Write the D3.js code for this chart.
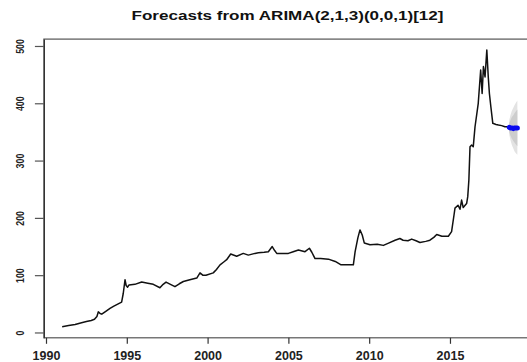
<!DOCTYPE html>
<html>
<head>
<meta charset="utf-8">
<script src="https://cdn.jsdelivr.net/npm/d3@7"></script>
<style>
  html, body { margin: 0; padding: 0; background: #fff; }
  svg { display: block; font-family: "Liberation Sans", Arial, sans-serif; }
</style>
</head>
<body>
<svg id="chart" width="527" height="362"></svg>
<script>
// Observed series (decimal year, value)
const obsTime = [
  1991.00, 1991.40, 1991.80, 1992.20, 1992.50, 1992.80, 1993.00, 1993.15, 1993.24, 1993.35,
  1993.45, 1993.70, 1993.96, 1994.20, 1994.47, 1994.68, 1994.78, 1994.89, 1994.96, 1995.05,
  1995.14, 1995.50, 1995.92, 1996.30, 1996.64, 1997.05, 1997.25, 1997.43, 1997.70, 1997.98,
  1998.25, 1998.50, 1998.90, 1999.33, 1999.53, 1999.70, 1999.90, 2000.35, 2000.55, 2000.77,
  2001.00, 2001.18, 2001.43, 2001.80, 2002.21, 2002.52, 2002.93, 2003.14, 2003.50, 2003.76,
  2004.00, 2004.15, 2004.28, 2004.70, 2005.00, 2005.30, 2005.62, 2006.03, 2006.30, 2006.45,
  2006.65, 2007.00, 2007.48, 2007.90, 2008.26, 2008.60, 2009.02, 2009.13, 2009.30, 2009.43,
  2009.57, 2009.70, 2010.05, 2010.50, 2010.88, 2011.20, 2011.60, 2011.90, 2012.10, 2012.40,
  2012.63, 2012.90, 2013.14, 2013.50, 2013.76, 2014.00, 2014.18, 2014.50, 2014.90, 2015.10,
  2015.25, 2015.31, 2015.50, 2015.62, 2015.72, 2015.82, 2016.03, 2016.10, 2016.17, 2016.24,
  2016.34, 2016.44, 2016.55, 2016.75, 2016.90, 2016.99, 2017.07, 2017.17, 2017.28, 2017.37,
  2017.44, 2017.53, 2017.65, 2017.85, 2018.00, 2018.20, 2018.40, 2018.60
];
const obsValue = [
  10, 12, 14, 17, 19, 21, 23, 28, 36, 33,
  32, 37, 42, 46, 50, 53, 68, 92, 82, 79,
  83, 84, 88, 86, 84, 78, 84, 88, 84, 80,
  85, 89, 92, 95, 104, 100, 100, 104, 110, 118,
  123, 127, 137, 133, 138, 135, 138, 139, 140, 141,
  150, 143, 138, 138, 138, 141, 144, 141, 147, 140,
  129, 129, 128, 124, 118, 118, 118, 141, 165, 179,
  170, 156, 153, 154, 152, 156, 161, 164, 161, 160,
  163, 160, 157, 159, 161, 166, 171, 168, 168, 176,
  205, 217, 222, 215, 231, 218, 225, 237, 266, 324,
  327, 324, 359, 400, 458, 417, 464, 446, 493, 446,
  417, 394, 365, 363, 362, 361, 359, 359
];

// Forecast horizon with point forecasts and prediction intervals
const fcTime  = [2018.67, 2018.75, 2018.83, 2018.92, 2019.00, 2019.08, 2019.17];
const fcMean  = [358, 357, 357, 356, 357, 357, 357];
const lo80    = [350, 343, 338, 334, 331, 328, 325];
const hi80    = [366, 371, 376, 379, 383, 386, 389];
const lo95    = [345, 335, 327, 321, 316, 313, 310];
const hi95    = [371, 380, 387, 392, 397, 401, 405];

const xTicks = [1990, 1995, 2000, 2005, 2010, 2015];
const yTicks = [0, 100, 200, 300, 400, 500];
const title = "Forecasts from ARIMA(2,1,3)(0,0,1)[12]";

const svg = d3.select("#chart");
svg.append("rect").attr("width", 527).attr("height", 362).attr("fill", "#fff");

// Plot limits (data range padded by 4% on each side)
const xLim = [1989.87, 2020.33];
const yLim = [-9.3, 512];
const x = d3.scaleLinear().domain(xLim).range([43.9, 536.1]);
const y = d3.scaleLinear().domain(yLim).range([337.8, 39.1]);

// Prediction intervals
const band = (lo, hi) => d3.area()
  .x((d, i) => x(fcTime[i]))
  .y0((d, i) => y(lo[i]))
  .y1((d, i) => y(hi[i]));
svg.append("path").datum(fcTime).attr("d", band(lo95, hi95)).attr("fill", "#e3e3e3");
svg.append("path").datum(fcTime).attr("d", band(lo80, hi80)).attr("fill", "#cdcdcd");

// Observed series
const line = d3.line().x(d => x(d[0])).y(d => y(d[1]));
svg.append("path")
  .datum(obsTime.map((t, i) => [t, obsValue[i]]))
  .attr("d", line)
  .attr("fill", "none")
  .attr("stroke", "#111")
  .attr("stroke-width", 1.5)
  .attr("stroke-linejoin", "round");

// Point forecasts
svg.append("path")
  .datum(fcTime.map((t, i) => [t, fcMean[i]]))
  .attr("d", line)
  .attr("fill", "none")
  .attr("stroke", "#0a0af0")
  .attr("stroke-width", 5)
  .attr("stroke-linecap", "round");

// Frame
svg.append("rect")
  .attr("x", x(xLim[0])).attr("y", y(yLim[1]))
  .attr("width", x(xLim[1]) - x(xLim[0]))
  .attr("height", y(yLim[0]) - y(yLim[1]))
  .attr("fill", "none").attr("stroke", "#555").attr("stroke-width", 1.2);

// Axes
const xAxis = svg.append("g")
  .attr("transform", `translate(0,${y(yLim[0])})`)
  .call(d3.axisBottom(x).tickValues(xTicks).tickFormat(d3.format("d")).tickSize(6).tickSizeOuter(0));
xAxis.select(".domain").remove();
xAxis.selectAll("line").attr("stroke", "#333").attr("stroke-width", 1.2);
xAxis.selectAll("text")
  .attr("y", 17.5).attr("dy", "0.35em")
  .attr("font-size", 12.5).attr("font-weight", "bold").attr("fill", "#222")
  .attr("font-family", "Liberation Sans, Arial, sans-serif");

const yAxis = svg.append("g")
  .attr("transform", `translate(${x(xLim[0])},0)`)
  .call(d3.axisLeft(y).tickValues(yTicks).tickSize(9).tickSizeOuter(0));
yAxis.select(".domain").attr("stroke", "#333").attr("stroke-width", 1.2);
yAxis.selectAll("line").attr("stroke", "#555").attr("stroke-width", 1.2);
yAxis.selectAll("text")
  .attr("transform", "rotate(-90)")
  .attr("x", 0).attr("y", -23.3).attr("dy", "0.35em")
  .attr("text-anchor", "middle")
  .attr("font-size", 11).attr("font-weight", "bold").attr("fill", "#222")
  .attr("font-family", "Liberation Sans, Arial, sans-serif")
  .each(function(d) {
    const n = String(d).length;
    d3.select(this).attr("textLength", n * 4.9).attr("lengthAdjust", "spacingAndGlyphs");
  });

// Title
svg.append("text")
  .attr("x", 287.5).attr("y", 19.5)
  .attr("text-anchor", "middle")
  .attr("font-size", 12).attr("font-weight", "bold").attr("fill", "#111")
  .attr("textLength", 312).attr("lengthAdjust", "spacingAndGlyphs")
  .text(title);
</script>
</body>
</html>
